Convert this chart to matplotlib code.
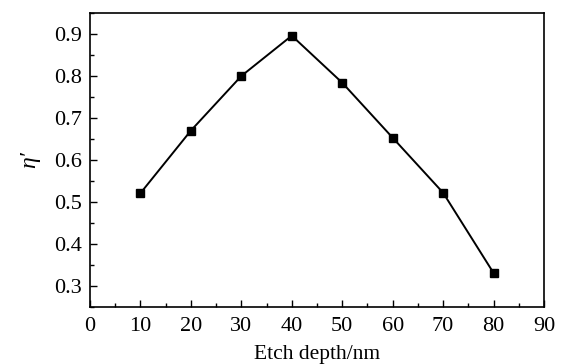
import matplotlib
matplotlib.use('Agg')
import matplotlib.pyplot as plt
from matplotlib.ticker import MultipleLocator

# ---------- data ----------
etch_depth = [10, 20, 30, 40, 50, 60, 70, 80]
eta_prime = [0.521, 0.670, 0.800, 0.896, 0.784, 0.653, 0.522, 0.331]
y_ticks = [0.3, 0.4, 0.5, 0.6, 0.7, 0.8, 0.9]

plt.rcParams['font.family'] = ['Liberation Serif', 'DejaVu Serif']

fig = plt.figure(figsize=(5.66, 3.64), dpi=100)
ax = fig.add_axes([90 / 566, 1 - 307 / 364, 454 / 566, 294 / 364])

ax.plot(etch_depth, eta_prime, 's-', color='black', linewidth=1.4,
        markersize=5.2, markerfacecolor='black')

ax.set_xlim(0, 90)
ax.set_ylim(0.25, 0.95)
ax.xaxis.set_major_locator(MultipleLocator(10))
ax.xaxis.set_minor_locator(MultipleLocator(5))
ax.set_yticks(y_ticks)
ax.set_yticklabels([f'{v:.1f}' for v in y_ticks])
ax.yaxis.set_minor_locator(MultipleLocator(0.05))
ax.tick_params(which='both', direction='in', top=False, right=False,
               width=1.0, labelsize=16)
ax.tick_params(which='major', length=5)
ax.tick_params(which='minor', length=3)
ax.tick_params(axis='x', pad=7)
ax.tick_params(axis='y', pad=6)
for s in ax.spines.values():
    s.set_linewidth(1.2)

ax.set_xlabel('Etch depth/nm', fontsize=15.5, labelpad=7)
ax.set_ylabel('η′', fontsize=17, style='italic', labelpad=10)

fig.savefig('out.png', dpi=100)
plt.close()
